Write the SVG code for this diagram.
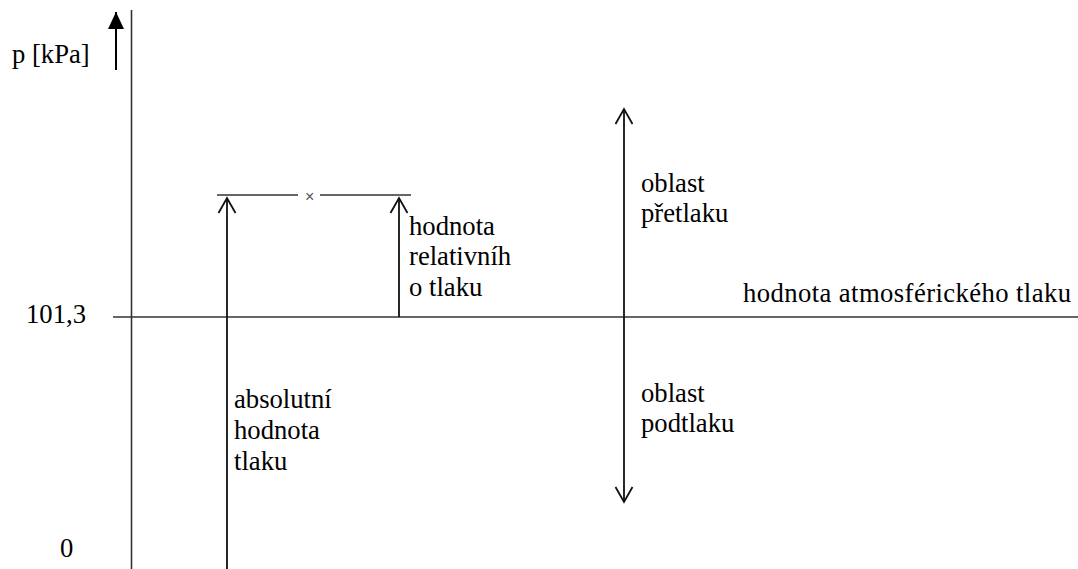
<svg xmlns="http://www.w3.org/2000/svg" width="1078" height="569" viewBox="0 0 1078 569">
<defs>
<style>
.t{font-size:26.67px;fill:#000}
.ln{stroke:#333;stroke-width:1.6;fill:none}
.oh{stroke:#111;stroke-width:1.8;fill:none}
.x{font-size:16px;fill:#555}
</style>
<marker id="open" viewBox="0 0 20 20" refX="18" refY="10" markerWidth="20" markerHeight="20" markerUnits="userSpaceOnUse" orient="auto-start-reverse">
<path d="M3,1.5 L18,10 L3,18.5" fill="none" stroke="#111" stroke-width="1.8"/>
</marker>
<marker id="fill" viewBox="0 0 20 20" refX="19" refY="10" markerWidth="20" markerHeight="20" markerUnits="userSpaceOnUse" orient="auto-start-reverse">
<path d="M2,2 L19,10 L2,18 Z" fill="#000"/>
</marker>
</defs>
<rect width="1078" height="569" fill="#fff"/>
<g id="axes">
<line class="ln" x1="131.5" y1="10" x2="131.5" y2="569"/>
<line class="ln" x1="113" y1="317" x2="1078" y2="317"/>
<line class="ln" x1="217" y1="195" x2="298" y2="195"/>
<line class="ln" x1="320" y1="195" x2="411" y2="195"/>
</g>
<g id="connectors">
<line x1="116" y1="70" x2="116" y2="12" stroke="#000" stroke-width="2" marker-end="url(#fill)"/>
<line class="oh" x1="227" y1="569" x2="227" y2="198" marker-end="url(#open)"/>
<line class="oh" x1="399" y1="317" x2="399" y2="198" marker-end="url(#open)"/>
<line class="oh" x1="624" y1="502" x2="624" y2="109" marker-start="url(#open)" marker-end="url(#open)"/>
</g>
<g id="labels" font-family="Liberation Serif, Times New Roman, serif">
<text class="t" x="12" y="63">p [kPa]</text>
<text class="t" x="26" y="323">101,3</text>
<text class="t" x="60" y="557">0</text>
<text class="t" x="743" y="302" textLength="328" lengthAdjust="spacing">hodnota atmosférického tlaku</text>
</g>
<g id="cross" font-family="Liberation Sans, Arial, sans-serif">
<text class="x" x="305" y="202">×</text>
</g>
<g id="node-relative" font-family="Liberation Serif, Times New Roman, serif">
<text class="t" x="409" y="235">hodnota</text>
<text class="t" x="409" y="265">relativníh</text>
<text class="t" x="409" y="296">o tlaku</text>
</g>
<g id="node-pretlak" font-family="Liberation Serif, Times New Roman, serif">
<text class="t" x="641" y="192">oblast</text>
<text class="t" x="641" y="222">přetlaku</text>
</g>
<g id="node-podtlak" font-family="Liberation Serif, Times New Roman, serif">
<text class="t" x="641" y="402">oblast</text>
<text class="t" x="641" y="432">podtlaku</text>
</g>
<g id="node-absolute" font-family="Liberation Serif, Times New Roman, serif">
<text class="t" x="234" y="408">absolutní</text>
<text class="t" x="234" y="439">hodnota</text>
<text class="t" x="234" y="470">tlaku</text>
</g>
</svg>
